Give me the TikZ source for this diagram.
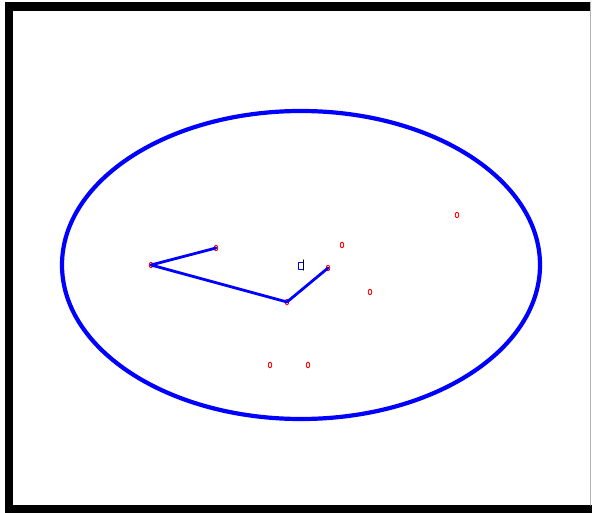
\documentclass[tikz,border=0pt]{standalone}
\usetikzlibrary{shapes.geometric}

\begin{document}
\begin{tikzpicture}[x=1pt, y=-1pt, line join=round, line cap=round,
  pt/.style={draw=red, ellipse, line width=0.9pt, inner sep=0pt, minimum width=3.6pt, minimum height=5.6pt},
  edge/.style={blue, line width=2.8pt}]
  % ========================================================
  % 0. CANVAS AND FRAME
  % ========================================================
  \useasboundingbox (0,0) rectangle (592,513);
  \fill[white] (0,0) rectangle (592,513);
  \fill[black] (5,2) rectangle (13,513);
  \fill[black] (5,2) rectangle (590,11);
  \fill[black] (5,505) rectangle (592,513);
  \draw[gray!60, line width=1.5pt] (590.5,2) -- (590.5,505);

  % ========================================================
  % 1. BOUNDARY ELLIPSE
  % ========================================================
  \coordinate (C) at (301,265);
  \draw[blue, line width=4.2pt] (C) ellipse [x radius=239, y radius=154];

  % ========================================================
  % 2. SAMPLE POINTS
  % ========================================================
  \node[pt] (p1) at (151,265) {};
  \node[pt] (p2) at (216,248) {};
  \node[pt] (p3) at (287,302) {};
  \node[pt] (p4) at (328,268) {};
  \node[pt] (p5) at (342,245) {};
  \node[pt] (p6) at (370,292) {};
  \node[pt] (p7) at (457,215) {};
  \node[pt] (p8) at (270,365) {};
  \node[pt] (p9) at (308,365) {};

  % ========================================================
  % 3. CONNECTING PATH
  % ========================================================
  \draw[edge] (p1.center) -- (p2.center);
  \draw[edge] (p1.center) -- (p3.center);
  \draw[edge] (p3.center) -- (p4.center);

  % ========================================================
  % 4. MARKER
  % ========================================================
  \draw[blue, line width=1pt] (298,263) rectangle (303,270);
  \draw[black, line width=1.2pt] (303.5,260) -- (303.5,270);
\end{tikzpicture}
\end{document}
